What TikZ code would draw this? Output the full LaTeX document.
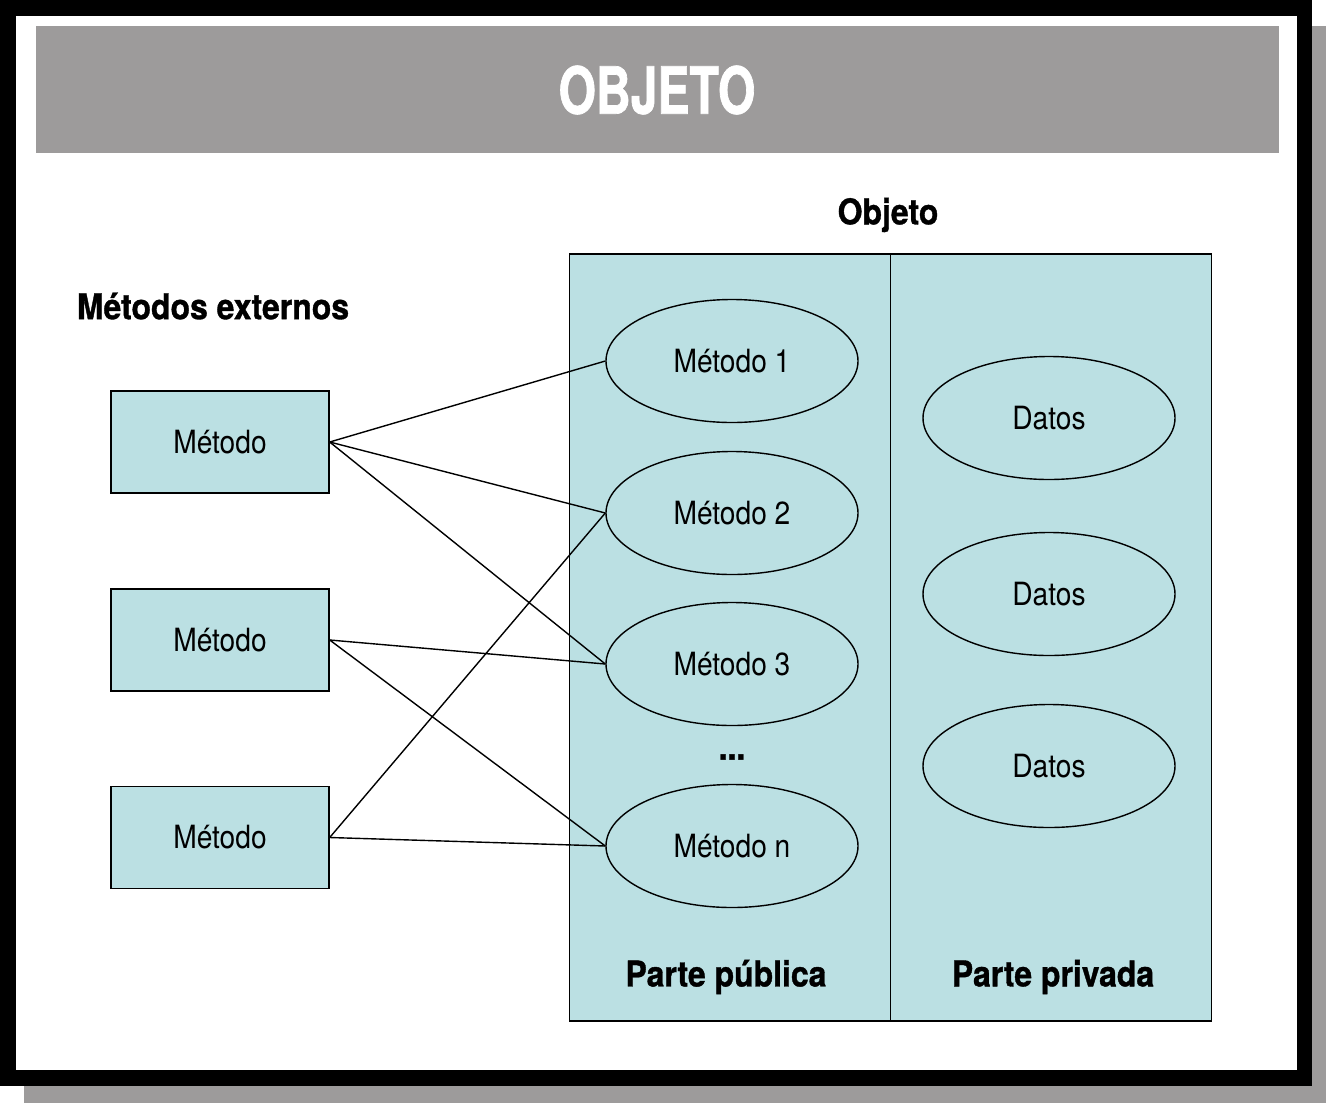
\documentclass[tikz,border=0pt]{standalone}
\usepackage{fontspec}
\setmainfont{TeX Gyre Heros}[FakeStretch=0.88]
\newfontfamily\boldcond{TeX Gyre Heros}[FakeStretch=0.9,FakeBold=1,UprightFont=*-Bold]
\newfontfamily\headfont{TeX Gyre Heros}[FakeStretch=0.74,FakeBold=1,UprightFont=*-Bold]
\usetikzlibrary{shapes.geometric}
\definecolor{framegray}{HTML}{9D9B9B}
\definecolor{boxblue}{HTML}{BBE0E3}
\begin{document}
\begin{tikzpicture}[x=1pt,y=-1pt,
  ext/.style={draw, line width=1.4pt, fill=boxblue, minimum width=218pt, minimum height=102pt, inner sep=0pt, font=\fontsize{32}{36}\selectfont},
  meth/.style={draw, ellipse, line width=1.4pt, minimum width=252pt, minimum height=123pt, inner sep=0pt, font=\fontsize{32}{36}\selectfont},
  part/.style={draw, line width=1.4pt, fill=boxblue, minimum width=321pt, minimum height=767pt, inner sep=0pt},
  lbl/.style={font=\boldcond\fontsize{35.5}{40}\selectfont, inner sep=0pt},
  conn/.style={line width=1.4pt}]
\useasboundingbox (0,0) rectangle (1328,1104);
% shadow and frame
\fill[framegray] (24,26) rectangle (1326,1103);
\fill[black] (0,0) rectangle (1312,1086);
\fill[white] (16,16) rectangle (1297,1070);
% banner
\fill[framegray] (36,26) rectangle (1279,153);
\node[text=white, font=\headfont\fontsize{65}{70}\selectfont, inner sep=0pt] (title) at (657,90) {OBJETO};
% object parts
\node[part] (pub) at (730,637.5) {};
\node[part] (priv) at (1051,637.5) {};
\node[lbl] (objlbl) at (888,215) {Objeto};
\node[lbl] (extlbl) at (213,306) {Métodos externos};
\node[lbl] (publbl) at (726,977) {Parte pública};
\node[lbl] (privlbl) at (1053,977) {Parte privada};
% methods
\node[meth] (m1) at (732,361) {Método 1};
\node[meth] (m2) at (732,513) {Método 2};
\node[meth] (m3) at (732,664) {Método 3};
\node[meth] (mn) at (732,846) {Método n};
\node[lbl] (dots) at (732,757) {...};
% data
\node[meth] (d1) at (1049,418) {Datos};
\node[meth] (d2) at (1049,594) {Datos};
\node[meth] (d3) at (1049,766) {Datos};
% external
\node[ext] (e1) at (220,442) {Método};
\node[ext] (e2) at (220,640) {Método};
\node[ext] (e3) at (220,837.5) {Método};
% connectors
\draw[conn] (e1.east) -- (m1.west);
\draw[conn] (e1.east) -- (m2.west);
\draw[conn] (e1.east) -- (m3.west);
\draw[conn] (e2.east) -- (m3.west);
\draw[conn] (e2.east) -- (mn.west);
\draw[conn] (e3.east) -- (m2.west);
\draw[conn] (e3.east) -- (mn.west);
\end{tikzpicture}
\end{document}
